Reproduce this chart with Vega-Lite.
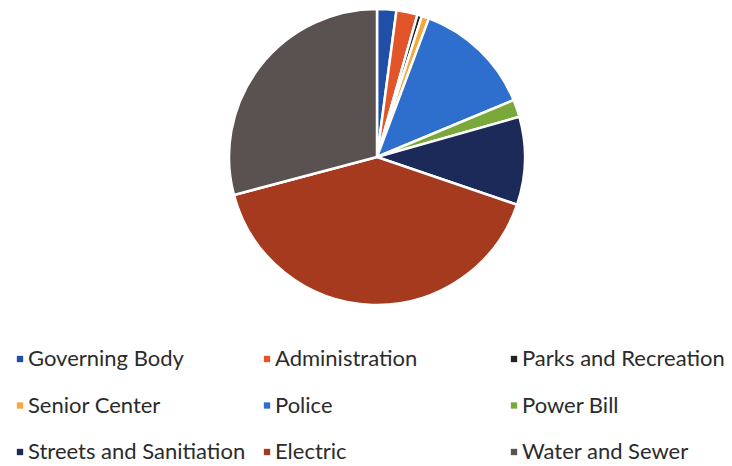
{
  "$schema": "https://vega.github.io/schema/vega-lite/v6.json",
  "width": 710,
  "height": 314,
  "padding": {"left": 22, "top": 0, "right": 0, "bottom": 152},
  "autosize": {"type": "none"},
  "background": "white",
  "view": {"stroke": null},
  "data": {
    "values": [
      {"category": "Governing Body", "pct": 2.1, "idx": 1},
      {"category": "Administration", "pct": 2.3, "idx": 2},
      {"category": "Parks and Recreation", "pct": 0.5, "idx": 3},
      {"category": "Senior Center", "pct": 0.8, "idx": 4},
      {"category": "Police", "pct": 13.0, "idx": 5},
      {"category": "Power Bill", "pct": 1.9, "idx": 6},
      {"category": "Streets and Sanitiation", "pct": 9.6, "idx": 7},
      {"category": "Electric", "pct": 40.6, "idx": 8},
      {"category": "Water and Sewer", "pct": 29.1, "idx": 9}
    ]
  },
  "mark": {"type": "arc", "outerRadius": 148, "stroke": "white", "strokeWidth": 2.5},
  "encoding": {
    "theta": {"field": "pct", "type": "quantitative", "stack": true},
    "order": {"field": "idx", "type": "quantitative"},
    "color": {
      "field": "category",
      "type": "nominal",
      "scale": {
        "domain": ["Governing Body", "Administration", "Parks and Recreation", "Senior Center", "Police", "Power Bill", "Streets and Sanitiation", "Electric", "Water and Sewer"],
        "range": ["#1f4fa6", "#e2552a", "#222222", "#f5a93a", "#2e6fce", "#7aa83a", "#1c2a5a", "#a63a1e", "#5a5250"]
      },
      "legend": {
        "title": null,
        "orient": "none",
        "legendX": -13,
        "legendY": 348,
        "direction": "horizontal",
        "columns": 3,
        "gridAlign": "all",
        "columnPadding": 10,
        "rowPadding": 24.5,
        "symbolType": "square",
        "symbolSize": 40,
        "symbolStrokeWidth": 0,
        "labelFont": "Lato",
        "labelFontSize": 22,
        "labelColor": "#2b2b2b",
        "labelOffset": -3,
        "labelLimit": 400
      }
    }
  }
}
